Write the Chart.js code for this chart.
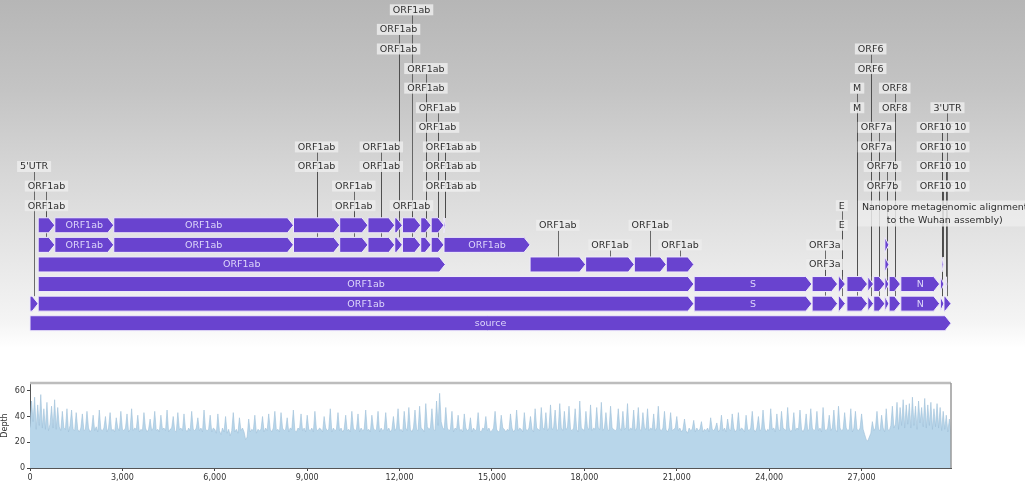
<!DOCTYPE html>
<html>
<head>
<meta charset="utf-8">
<script src="https://cdn.jsdelivr.net/npm/chart.js@4.4.1/dist/chart.umd.min.js"></script>
<style>
  html, body { margin: 0; padding: 0; }
  body {
    width: 1025px; height: 490px; overflow: hidden; position: relative;
    background: linear-gradient(to bottom, #b6b6b6 0px, #c4c4c4 90px, #d6d6d6 170px, #e6e6e6 250px, #f4f4f4 320px, #ffffff 348px);
  }
  #map { position: absolute; left: 0; top: 0; }
  #depth { position: absolute; left: 0; top: 340px; }
</style>
</head>
<body>
<canvas id="map" width="1025" height="334"></canvas>
<canvas id="depth" width="1025" height="150"></canvas>
<script>
const GENOME_LENGTH = 29903;

// ---- annotated features (genome coordinates, track row 0 = source, 5 = top peptide row)
const featureStart = [
  1,
  1, 266, 21563, 25393, 26245, 26523, 27202, 27394, 27756, 27894, 28274, 29558, 29675,
  266, 21563, 25393, 26245, 26523, 27202, 27394, 27756, 27894, 28274, 29558, 29728,
  266, 16237, 18040, 19621, 20659, 27756, 29609,
  266, 806, 2720, 8555, 10055, 10973, 11843, 12092, 12686, 13025, 13442, 27756,
  266, 806, 2720, 8555, 10055, 10973, 11843, 12092, 12686, 13025, 13442
];
const featureEnd = [
  29903,
  265, 21555, 25384, 26220, 26472, 27191, 27387, 27759, 27887, 28259, 29533, 29674, 29903,
  21555, 25384, 26220, 26472, 27191, 27387, 27759, 27887, 28259, 29533, 29674, 29768,
  13483, 18039, 19620, 20658, 21552, 27887, 29657,
  805, 2719, 8554, 10054, 10972, 11842, 12091, 12685, 13024, 13441, 16236, 27887,
  805, 2719, 8554, 10054, 10972, 11842, 12091, 12685, 13024, 13441, 13480
];
const featureRow = [
  0,
  1, 1, 1, 1, 1, 1, 1, 1, 1, 1, 1, 1, 1,
  2, 2, 2, 2, 2, 2, 2, 2, 2, 2, 2, 2,
  3, 3, 3, 3, 3, 3, 3,
  4, 4, 4, 4, 4, 4, 4, 4, 4, 4, 4, 4,
  5, 5, 5, 5, 5, 5, 5, 5, 5, 5, 5
];
// text written inside a feature ('' = none)
const featureText = [
  'source',
  '', 'ORF1ab', 'S', '', '', '', '', '', '', '', 'N', '', '',
  'ORF1ab', 'S', '', '', '', '', '', '', '', 'N', '', '',
  'ORF1ab', '', '', '', '', '', '',
  '', 'ORF1ab', 'ORF1ab', '', '', '', '', '', '', '', 'ORF1ab', '',
  '', 'ORF1ab', 'ORF1ab', '', '', '', '', '', '', '', ''
];

// ---- boxed labels above the tracks, with leader lines down to their feature
const calloutText = [
  "5'UTR", 'ORF1ab', 'ORF1ab',
  'ORF1ab', 'ORF1ab', 'ORF1ab', 'ORF1ab', 'ORF1ab', 'ORF1ab',
  'ORF1ab', 'ORF1ab', 'ORF1ab', 'ORF1ab',
  'ORF1ab', 'ORF1ab', 'ORF1ab', 'ORF1ab',
  'ORF1ab', 'ORF1ab', 'ORF1ab', 'ORF1ab', 'ORF1ab', 'ORF1ab',
  'ORF1ab', 'ORF1ab', 'ORF1ab', 'ORF1ab',
  'ORF3a', 'ORF3a', 'E', 'E', 'M', 'M', 'ORF6', 'ORF6',
  'ORF7a', 'ORF7a', 'ORF7b', 'ORF7b', 'ORF8', 'ORF8', "3'UTR",
  'ORF10', 'ORF10', 'ORF10', 'ORF10', 'ORF10', 'ORF10', 'ORF10', 'ORF10'
];
const calloutPos = [
  133, 535, 535,
  9304, 9304, 10513, 10513, 11407, 11407,
  11967, 11967, 12388, 12388,
  12855, 12855, 13233, 13233,
  13900, 13461, 13900, 13461, 13900, 13461,
  17138, 18830, 20140, 21105,
  25806, 25806, 26358, 26358, 26857, 26857, 27294, 27294,
  27480, 27480, 27680, 27680, 28076, 28076, 29789,
  29890, 29400, 29890, 29400, 29890, 29400, 29890, 29400
];
const calloutLevel = [
  8, 7, 6,
  9, 8, 7, 6, 9, 8,
  15, 14, 16, 6,
  13, 12, 11, 10,
  9, 9, 8, 8, 7, 7,
  5, 4, 5, 4,
  4, 3, 6, 5, 12, 11, 14, 13,
  10, 9, 8, 7, 12, 11, 11,
  10, 10, 9, 9, 8, 8, 7, 7
];
const calloutTarget = [
  133, 535, 535,
  9304, 9304, 10513, 10513, 11407, 11407,
  11967, 11967, 12388, 12388,
  12855, 12855, 13233, 13233,
  13461, 13461, 13461, 13461, 13461, 13461,
  17138, 18830, 20140, 21105,
  25806, 25806, 26358, 26358, 26857, 26857, 27294, 27294,
  27576, 27576, 27821, 27821, 28076, 28076, 29789,
  29616, 29616, 29616, 29616, 29748, 29748, 29633, 29633
];
const calloutTargetRow = [
  1, 4, 5,
  4, 5, 4, 5, 4, 5,
  4, 5, 4, 5,
  4, 5, 4, 5,
  5, 5, 5, 5, 5, 5,
  3, 3, 3, 3,
  2, 1, 2, 1, 2, 1, 2, 1,
  2, 1, 2, 1, 2, 1, 1,
  2, 2, 1, 1, 2, 2, 3, 3
];

// two-line note attached to the 3' end
const noteLines = ['Nanopore metagenomic alignment', 'to the Wuhan assembly)'];
const notePos = 29700;
const noteLevel = 5.6;

// ---- read depth along the genome, one value per 50 bp
const depthStep = 50;
const depthValues = [
  31,52,36,55,30,49,33,57,31,46,
  30,51,29,34,48,31,53,30,47,32,
  29,44,31,30,46,28,33,45,30,29,
  43,30,28,31,42,29,30,44,31,28,
  30,41,29,32,28,45,30,29,31,40,
  28,31,43,29,30,28,39,31,29,44,
  30,29,31,42,28,30,46,29,31,30,
  41,28,30,29,43,31,28,30,38,29,
  31,44,29,30,28,41,30,31,29,45,
  28,30,31,40,29,28,43,30,31,29,
  42,30,28,31,29,44,30,29,31,39,
  29,31,28,45,30,29,30,41,28,31,
  30,27,42,29,26,31,28,40,27,30,
  25,29,43,28,30,27,39,29,31,28,
  22,24,38,28,30,29,41,27,30,29,
  30,40,28,31,29,42,30,28,31,44,
  29,30,28,43,31,29,30,39,28,31,
  30,45,29,28,31,30,42,29,31,28,
  41,30,29,31,28,44,30,29,31,30,
  28,40,31,29,30,46,28,31,29,30,
  43,29,31,28,30,41,29,30,28,44,
  31,29,30,42,28,31,29,30,45,29,
  30,28,41,31,29,30,44,28,31,29,
  30,43,29,31,28,30,40,29,31,46,
  29,30,28,44,31,29,47,30,28,31,
  45,30,29,48,31,30,28,50,32,30,
  31,46,30,29,52,33,58,36,31,30,
  47,31,29,30,44,28,31,30,41,29,
  30,28,42,31,29,30,39,28,31,29,
  30,43,29,28,31,30,40,29,31,28,
  29,31,44,30,28,29,41,31,30,28,
  30,29,42,31,28,30,45,29,31,30,
  28,43,30,29,31,40,30,28,46,31,
  30,29,47,31,30,43,29,31,49,30,
  31,45,29,30,50,31,29,44,30,31,
  48,30,29,31,46,30,28,52,31,30,
  29,44,31,30,49,29,31,30,47,31,
  30,51,29,31,43,30,29,48,31,30,
  29,30,46,31,29,44,30,31,50,29,
  31,30,45,29,31,47,30,29,43,31,
  30,46,29,31,30,42,29,31,48,30,
  29,31,44,30,28,31,43,29,30,31,
  40,29,31,28,30,38,29,27,31,29,
  30,37,28,31,29,30,36,28,30,29,
  31,28,39,30,29,31,35,28,30,41,
  29,31,28,38,30,29,42,31,28,30,
  43,29,31,30,28,41,30,29,31,44,
  30,28,31,40,29,30,45,31,28,30,
  29,46,30,31,28,42,30,29,44,31,
  30,29,47,31,28,30,43,29,31,30,
  45,30,28,31,42,29,30,46,31,29,
  30,44,29,31,28,47,30,29,31,41,
  29,31,45,30,28,48,31,29,30,43,
  31,29,30,46,28,31,44,30,29,31,
  42,30,26,22,21,24,27,36,29,31,
  44,30,29,41,31,28,46,30,29,33,
  48,31,34,51,30,47,33,53,31,49,
  34,50,31,55,33,48,30,52,35,47,
  32,54,31,49,33,51,30,46,32,50,
  31,47,29,44,30,41,28,38,27,25
];
const xTickValues = [0, 3000, 6000, 9000, 12000, 15000, 18000, 21000, 24000, 27000];
const yTickValues = [0, 20, 40, 60];

// ---- drawing constants
const BAR_H = 15;
const HEAD = 6;
const BOX_H = 11;
const LABEL_FONT = '9.5px "DejaVu Sans"';
const FEATURE_FILL = '#6943cf';
const FEATURE_EDGE = '#efeafc';

function arrowPath(ctx, x0, x1, yc, h) {
  const head = Math.min(HEAD, Math.max(x1 - x0, 1));
  ctx.beginPath();
  ctx.moveTo(x0, yc - h / 2);
  ctx.lineTo(x1 - head, yc - h / 2);
  ctx.lineTo(x1, yc);
  ctx.lineTo(x1 - head, yc + h / 2);
  ctx.lineTo(x0, yc + h / 2);
  ctx.closePath();
}

function drawBox(ctx, cx, cy, w, h) {
  ctx.fillStyle = 'rgba(236,236,236,0.85)';
  ctx.fillRect(cx - w / 2, cy - h / 2, w, h);
}

const featureMapPlugin = {
  id: 'featureMap',
  beforeDatasetsDraw(chart) {
    const { ctx } = chart;
    const xs = chart.scales.x, ys = chart.scales.y;
    ctx.save();
    ctx.strokeStyle = '#4a4a4a';
    ctx.lineWidth = 0.8;
    calloutText.forEach((t, i) => {
      const x = Math.round(xs.getPixelForValue(calloutTarget[i])) + 0.5;
      const yTop = ys.getPixelForValue(calloutLevel[i]) + BOX_H / 2;
      const yBot = ys.getPixelForValue(calloutTargetRow[i]) - BAR_H / 2;
      if (yBot > yTop) {
        ctx.beginPath();
        ctx.moveTo(x, yTop);
        ctx.lineTo(x, yBot);
        ctx.stroke();
      }
    });
    ctx.restore();
  },
  afterDatasetsDraw(chart) {
    const { ctx } = chart;
    const xs = chart.scales.x, ys = chart.scales.y;
    const meta = chart.getDatasetMeta(0);
    ctx.save();
    // feature arrows
    meta.data.forEach((bar) => {
      const p = bar.getProps(['x', 'base', 'y', 'height'], true);
      const x0 = Math.min(p.x, p.base), x1 = Math.max(p.x, p.base);
      arrowPath(ctx, x0, x1, p.y, p.height);
      ctx.fillStyle = FEATURE_FILL;
      ctx.fill();
      ctx.strokeStyle = FEATURE_EDGE;
      ctx.lineWidth = 1;
      ctx.stroke();
    });
    // text inside features
    ctx.font = LABEL_FONT;
    ctx.textAlign = 'center';
    ctx.textBaseline = 'middle';
    ctx.fillStyle = '#ddd6fb';
    meta.data.forEach((bar, i) => {
      if (!featureText[i]) return;
      const p = bar.getProps(['x', 'base', 'y'], true);
      ctx.fillText(featureText[i], (p.x + p.base) / 2, p.y + 0.5);
    });
    // boxed callouts
    calloutText.forEach((t, i) => {
      const cx = xs.getPixelForValue(calloutPos[i]);
      const cy = ys.getPixelForValue(calloutLevel[i]);
      const w = ctx.measureText(t).width + 6;
      drawBox(ctx, cx, cy, w, BOX_H);
      ctx.fillStyle = '#2e2e2e';
      ctx.fillText(t, cx, cy + 0.5);
    });
    // two-line note
    const nx = xs.getPixelForValue(notePos);
    const ny = ys.getPixelForValue(noteLevel);
    const nw = Math.max(...noteLines.map(s => ctx.measureText(s).width)) + 8;
    drawBox(ctx, nx, ny, nw, 26);
    ctx.fillStyle = '#2e2e2e';
    ctx.fillText(noteLines[0], nx, ny - 6);
    ctx.fillText(noteLines[1], nx, ny + 7);
    ctx.restore();
  }
};

new Chart(document.getElementById('map'), {
  type: 'bar',
  data: {
    datasets: [{
      data: featureStart.map((s, i) => ({ x: [s, featureEnd[i]], y: featureRow[i] })),
      backgroundColor: 'rgba(0,0,0,0)',
      borderWidth: 0,
      barThickness: BAR_H,
      grouped: false
    }]
  },
  options: {
    indexAxis: 'y',
    responsive: false,
    animation: false,
    layout: { padding: { left: 30, right: 74, top: 0, bottom: 0 } },
    scales: {
      x: { type: 'linear', min: 0, max: GENOME_LENGTH, display: false },
      y: { type: 'linear', min: -0.55, max: 16.5, offset: false, display: false }
    },
    plugins: { legend: { display: false }, tooltip: { enabled: false } }
  },
  plugins: [featureMapPlugin]
});

// frame around the depth panel
const framePlugin = {
  id: 'frame',
  afterDraw(chart) {
    const { ctx, chartArea: a } = chart;
    ctx.save();
    ctx.strokeStyle = '#bdbdbd';
    ctx.lineWidth = 2.5;
    ctx.beginPath();
    ctx.moveTo(a.left, a.top);
    ctx.lineTo(a.right, a.top);
    ctx.stroke();
    ctx.strokeStyle = '#9a9a9a';
    ctx.lineWidth = 1.5;
    ctx.beginPath();
    ctx.moveTo(a.right, a.top);
    ctx.lineTo(a.right, a.bottom);
    ctx.stroke();
    ctx.restore();
  }
};

const tickFont = { family: '"DejaVu Sans"', size: 8 };

new Chart(document.getElementById('depth'), {
  type: 'line',
  data: {
    datasets: [{
      data: depthValues.map((v, i) => ({ x: i * depthStep, y: v })),
      fill: 'origin',
      backgroundColor: '#b8d6ea',
      borderColor: '#9dbfd8',
      borderWidth: 0.6,
      pointRadius: 0,
      tension: 0
    }]
  },
  options: {
    responsive: false,
    animation: false,
    layout: { padding: { left: 0, right: 74, top: 43, bottom: 0 } },
    scales: {
      x: {
        type: 'linear', min: 0, max: GENOME_LENGTH,
        afterBuildTicks: (s) => { s.ticks = xTickValues.map(v => ({ value: v })); },
        afterFit: (s) => { s.height = 22; },
        grid: { drawOnChartArea: false, tickLength: 3, color: '#444' },
        border: { color: '#555', width: 1 },
        ticks: {
          autoSkip: false, maxRotation: 0, padding: 2, color: '#333', font: tickFont,
          callback: (v) => Number(v).toLocaleString('en-US')
        }
      },
      y: {
        type: 'linear', min: 0, max: 66,
        afterBuildTicks: (s) => { s.ticks = yTickValues.map(v => ({ value: v })); },
        afterFit: (s) => { s.width = 30; },
        grid: { drawOnChartArea: false, tickLength: 3, color: '#444' },
        border: { color: '#555', width: 1 },
        ticks: { autoSkip: false, padding: 2, color: '#333', font: tickFont },
        title: { display: true, text: 'Depth', color: '#333', font: tickFont, padding: { top: 0, bottom: 0 } }
      }
    },
    plugins: { legend: { display: false }, tooltip: { enabled: false } }
  },
  plugins: [framePlugin]
});
</script>
</body>
</html>
